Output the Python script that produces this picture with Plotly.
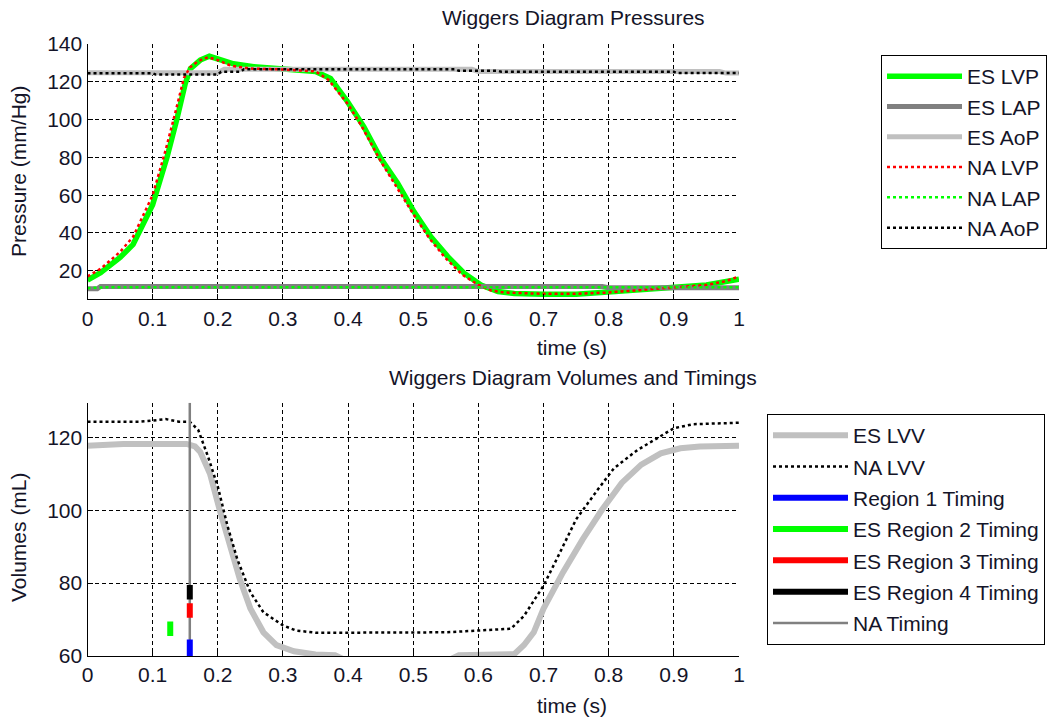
import plotly.graph_objects as go

# ---------------- data: pressures ----------------
t_es_lvp = [0, 0.02, 0.05, 0.07, 0.1, 0.122, 0.137, 0.15, 0.158, 0.173, 0.187, 0.203,
            0.224, 0.255, 0.3, 0.33, 0.35, 0.373, 0.399, 0.424, 0.45, 0.476, 0.501, 0.527,
            0.553, 0.578, 0.604, 0.63, 0.655, 0.7, 0.75, 0.81, 0.86, 0.9, 0.95, 1.0]
es_lvp = [15, 19, 27, 34, 55, 80, 100, 119, 127, 131.5, 133.5, 132,
          129.5, 128, 127, 126.5, 125.5, 121.8, 109.5, 96.3, 79.5, 66.3, 51.3, 38,
          27.5, 18.7, 12.5, 9, 8, 7.6, 7.6, 9, 10, 11, 12.5, 15.5]

t_na_lvp = [0, 0.02, 0.05, 0.07, 0.1, 0.12, 0.135, 0.148, 0.157, 0.17, 0.185, 0.2, 0.22,
            0.25, 0.3, 0.35, 0.37, 0.4, 0.42, 0.45, 0.475, 0.5, 0.525, 0.55, 0.575, 0.6,
            0.62, 0.64, 0.7, 0.75, 0.8, 0.85, 0.9, 0.95, 0.98, 1.0]
na_lvp = [17, 21, 30, 38, 60, 84, 104, 122, 127.5, 131, 133, 131.5, 128.5,
          127, 126.5, 125.5, 121, 108, 97, 78, 64, 50, 37, 26.5, 18, 12.5,
          9.5, 8.5, 7.8, 7.8, 8.5, 9.8, 11, 12.5, 14.5, 17]

t_es_lap = [0, 0.015, 0.02, 0.79, 0.8, 1.0]
es_lap = [10.5, 10.5, 11.7, 11.7, 11.0, 11.0]

t_na_lap = [0, 0.03, 1.0]
na_lap = [10.8, 11.3, 11.3]

t_es_aop = [0, 0.2, 0.21, 0.59, 0.6, 0.97, 0.98, 1.0]
es_aop = [124.8, 124.8, 126.6, 126.6, 125.4, 125.4, 124.6, 124.6]

t_na_aop = [0, 0.1, 0.105, 0.2, 0.205, 0.235, 0.24, 0.565, 0.57, 0.63, 0.635, 0.9, 0.905, 1.0]
na_aop = [124.5, 124.5, 123.8, 123.8, 125.3, 125.3, 126.6, 126.6, 125.8, 125.8, 125.3, 125.3, 124.6, 124.6]

# ---------------- data: volumes ----------------
t_es_lvv = [0, 0.055, 0.152, 0.165, 0.173, 0.188, 0.203, 0.219, 0.234, 0.25, 0.27, 0.29,
            0.317, 0.35, 0.38, 0.4, 0.45, 0.5, 0.55, 0.57, 0.6, 0.655, 0.67, 0.685, 0.7,
            0.73, 0.76, 0.79, 0.82, 0.85, 0.88, 0.91, 0.94, 1.0]
es_lvv = [117.7, 118.2, 118.2, 117.5, 116, 110, 100, 90, 81, 73, 66.5, 63,
          61.3, 60.4, 60.2, 58.5, 57, 57, 58.5, 60.2, 60.3, 60.5, 63, 66.5, 73,
          83, 92, 100.2, 107.5, 112.5, 115.6, 117, 117.5, 117.7]

t_na_lvv = [0, 0.08, 0.1, 0.12, 0.14, 0.157, 0.17, 0.185, 0.2, 0.215, 0.23, 0.25, 0.27,
            0.3, 0.32, 0.35, 0.4, 0.5, 0.55, 0.6, 0.65, 0.67, 0.7, 0.72, 0.75, 0.783,
            0.808, 0.844, 0.875, 0.9, 0.93, 1.0]
na_lvv = [124.3, 124.3, 124.6, 125, 124.3, 124.3, 122, 114.7, 106.5, 95.6, 86.5, 77.5, 72,
          68.4, 67, 66.4, 66.4, 66.4, 66.5, 67, 67.5, 71, 79.3, 86.5, 97.5, 105.6,
          111.5, 116.5, 119.7, 122.5, 123.6, 124]

timing_names = ["Region 1 Timing", "ES Region 2 Timing", "ES Region 3 Timing", "ES Region 4 Timing"]
timing_t = [0.157, 0.127, 0.157, 0.157]
timing_lo = [60, 65.5, 70.5, 75.5]
timing_hi = [64.5, 69.5, 74.5, 79.5]
timing_colors = ["#0000ff", "#00ff00", "#ff0000", "#000000"]

na_timing_t = 0.157
na_timing_y = [60, 129.5]

x_ticks = [0, 0.1, 0.2, 0.3, 0.4, 0.5, 0.6, 0.7, 0.8, 0.9, 1.0]
x_ticklabels = ["0", "0.1", "0.2", "0.3", "0.4", "0.5", "0.6", "0.7", "0.8", "0.9", "1"]
p_ticks = [20, 40, 60, 80, 100, 120, 140]
v_ticks = [60, 80, 100, 120]

# ---------------- figure ----------------
W, H = 1054, 719
FONT = "Liberation Sans, Arial, sans-serif"
FS = 21
TXT = "#141428"

fig = go.Figure()

def add(x, y, name, color, width, dash, xa, ya, legend, rank, show=True, group=None):
    fig.add_trace(go.Scatter(
        x=x, y=y, mode="lines", name=name,
        line=dict(color=color, width=width, dash=dash),
        xaxis=xa, yaxis=ya, legend=legend, legendrank=rank,
        legendgroup=group or name, showlegend=show, hoverinfo="skip"))

# top
add(t_es_lvp, es_lvp, "ES LVP", "#00ff00", 5.5, "solid", "x", "y", "legend", 1)
add(t_es_lap, es_lap, "ES LAP", "#808080", 5, "solid", "x", "y", "legend", 2)
add(t_es_aop, es_aop, "ES AoP", "#c0c0c0", 5, "solid", "x", "y", "legend", 3)
add(t_na_lvp, na_lvp, "NA LVP", "#ff0000", 2.5, "3px,3px", "x", "y", "legend", 4)
add(t_na_lap, na_lap, "NA LAP", "#00ff00", 2.5, "3px,3px", "x", "y", "legend", 5)
add(t_na_aop, na_aop, "NA AoP", "#000000", 2.5, "3px,3px", "x", "y", "legend", 6)

# bottom
add(t_es_lvv, es_lvv, "ES LVV", "#c0c0c0", 6, "solid", "x2", "y2", "legend2", 1)
add(t_na_lvv, na_lvv, "NA LVV", "#000000", 2.5, "3px,3px", "x2", "y2", "legend2", 2)
add([na_timing_t, na_timing_t], na_timing_y, "NA Timing", "#808080", 2.5, "solid", "x2", "y2", "legend2", 7)
for i, nm in enumerate(timing_names):
    add([timing_t[i], timing_t[i]], [timing_lo[i], timing_hi[i]], nm, timing_colors[i], 6,
        "solid", "x2", "y2", "legend2", 3 + i)

axis_common = dict(
    showline=True, linecolor="black", linewidth=1.2,
    ticks="inside", ticklen=5, tickcolor="black", tickwidth=1,
    showgrid=True, gridcolor="black", gridwidth=1, griddash="4px,3px",
    zeroline=False, mirror=False,
    tickfont=dict(family=FONT, size=FS, color=TXT),
)

x0, x1 = 87.5 / W, 739 / W
fig.update_layout(
    width=W, height=H,
    margin=dict(l=0, r=0, t=0, b=0, autoexpand=False),
    paper_bgcolor="white", plot_bgcolor="white",
    showlegend=True,
    xaxis=dict(domain=[x0, x1], range=[0, 1], tickvals=x_ticks, ticktext=x_ticklabels,
               anchor="y", **axis_common),
    yaxis=dict(domain=[1 - 299.3 / H, 1 - 44 / H], range=[4.9, 140], tickvals=p_ticks,
               anchor="x", **axis_common),
    xaxis2=dict(domain=[x0, x1], range=[0, 1], tickvals=x_ticks, ticktext=x_ticklabels,
                anchor="y2", **axis_common),
    yaxis2=dict(domain=[1 - 656 / H, 1 - 402.7 / H], range=[60, 129.5], tickvals=v_ticks,
                anchor="x2", **axis_common),
    legend=dict(x=881 / W, y=1 - 55 / H, xanchor="left", yanchor="top",
                bgcolor="white", bordercolor="black", borderwidth=1,
                font=dict(family=FONT, size=FS, color=TXT),
                tracegroupgap=0, itemwidth=75, traceorder="grouped"),
    legend2=dict(x=767 / W, y=1 - 414 / H, xanchor="left", yanchor="top",
                 bgcolor="white", bordercolor="black", borderwidth=1,
                 font=dict(family=FONT, size=FS, color=TXT),
                 tracegroupgap=1, itemwidth=75, traceorder="grouped"),
)

def ann(text, x, y, angle=0):
    fig.add_annotation(text=text, x=x / W, y=1 - y / H, xref="paper", yref="paper",
                       showarrow=False, textangle=angle, xanchor="center", yanchor="middle",
                       font=dict(family=FONT, size=FS, color=TXT))

ann("Wiggers Diagram Pressures", 573, 18)
ann("time (s)", 572, 347)
ann("Pressure (mm/Hg)", 18, 171, -90)
ann("Wiggers Diagram Volumes and Timings", 573, 378)
ann("time (s)", 572, 705)
ann("Volumes (mL)", 18, 537, -90)

fig.write_html("out.html")
